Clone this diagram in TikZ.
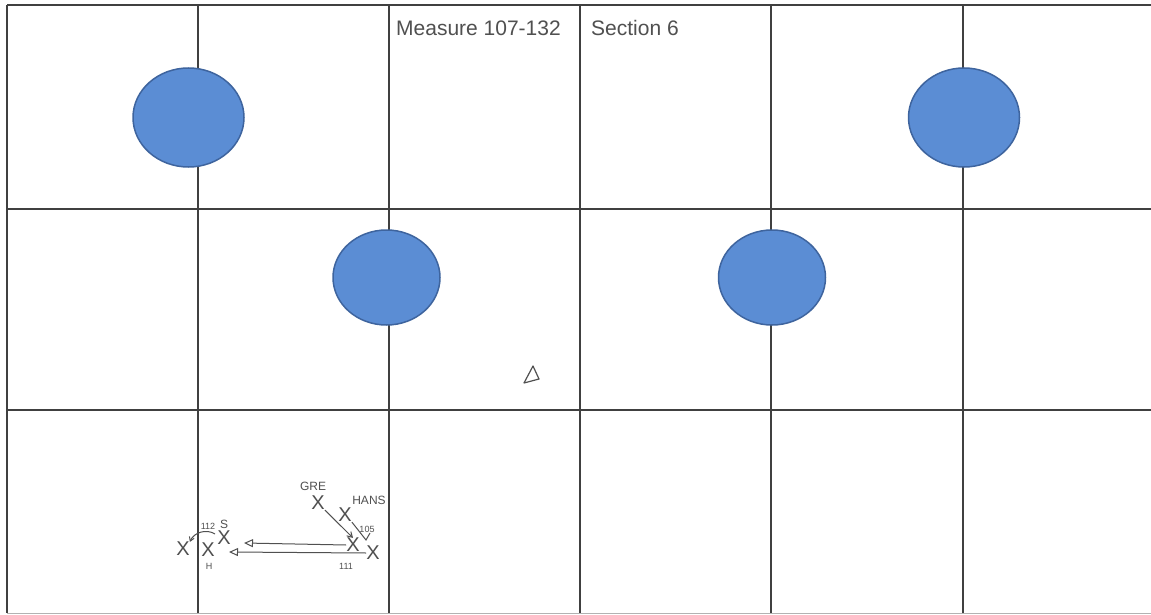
\documentclass[tikz,border=0pt]{standalone}
\usepackage{fontspec}
\setmainfont{Liberation Sans}
\usetikzlibrary{arrows.meta,shapes.geometric}
\definecolor{spotfill}{RGB}{91,141,212}
\definecolor{spotline}{RGB}{62,100,158}
\definecolor{pencilgray}{RGB}{80,80,80}
\begin{document}
\begin{tikzpicture}[x=1pt,y=-1pt,
  gridline/.style={draw=black!75,line width=1.1pt},
  faintline/.style={draw=black!30,line width=1pt},
  spot/.style={ellipse,fill=spotfill,draw=spotline,line width=1.5pt,inner sep=0pt},
  bigspot/.style={spot,minimum width=111pt,minimum height=99pt},
  midspot/.style={spot,minimum width=107pt,minimum height=95pt},
  pencil/.style={text=pencilgray,inner sep=0pt},
  title/.style={pencil,font=\fontsize{21}{21}\selectfont,anchor=base west},
  xmark/.style={pencil,font=\fontsize{20}{20}\selectfont},
  lbl/.style={pencil,font=\fontsize{12}{12}\selectfont},
  tinylbl/.style={pencil,font=\fontsize{9}{9}\selectfont},
  ink/.style={draw=pencilgray,line width=1pt},
]
\useasboundingbox[fill=white] (0,0) rectangle (1151,615);

% grid
\foreach \gx in {7,198,389,580,771,963}
  \draw[gridline] (\gx,5) -- (\gx,613);
\foreach \gy in {5,209,410}
  \draw[gridline] (7,\gy) -- (1151,\gy);
\draw[faintline] (7,613) -- (1151,613);

% spots
\node[bigspot] (s1) at (188.5,117.5) {};
\node[bigspot] (s4) at (964,117.5) {};
\node[midspot] (s2) at (386.5,277.5) {};
\node[midspot] (s3) at (772,277.5) {};

% titles
\node[title] (measure) at (396,36) {Measure 107-132};
\node[title] (section) at (591,36) {Section 6};

% triangle mark
\draw[ink,line width=1.2pt,line join=round] (533,366) -- (524,383) -- (539,379) -- cycle;

% players and movements
\node[lbl] (gre) at (313,486) {GRE};
\node[xmark] (xg) at (318,503) {X};
\node[lbl] (hans) at (369,500) {HANS};
\node[xmark] (xh) at (345,515) {X};
\node[tinylbl] (n105) at (367,529) {105};
\node[xmark] (xa) at (353,545) {X};
\node[xmark] (xb) at (373,553) {X};
\node[tinylbl] (n111) at (346,566) {111};
\node[xmark] (xH) at (208,550) {X};
\node[tinylbl] (lblH) at (209,566) {H};
\node[xmark] (xS) at (224,538) {X};
\node[lbl] (lblS) at (224,524) {S};
\node[tinylbl] (n112) at (208,526) {112};
\node[xmark] (xL) at (183,549) {X};

\coordinate (tip1) at (244,543);
\coordinate (tip2) at (229,552);
\coordinate (hook) at (366,540);
\coordinate (hookend) at (370,533);
\coordinate (curlstart) at (215,534);

\draw[ink,-{Triangle[open,length=9pt,width=8pt]}] (xa.west) -- (tip1);
\draw[ink,-{Triangle[open,length=9pt,width=8pt]}] (xb.west) -- (tip2);
\draw[ink,-{Straight Barb[length=5pt,width=6pt]}] (xg.south east) -- (xa.north);
\draw[ink] (xh.south east) -- (hook) -- (hookend);
\draw[ink,-{Straight Barb[length=4pt,width=5pt]}] (curlstart) to[bend right=50] (xL.north east);
\end{tikzpicture}
\end{document}
